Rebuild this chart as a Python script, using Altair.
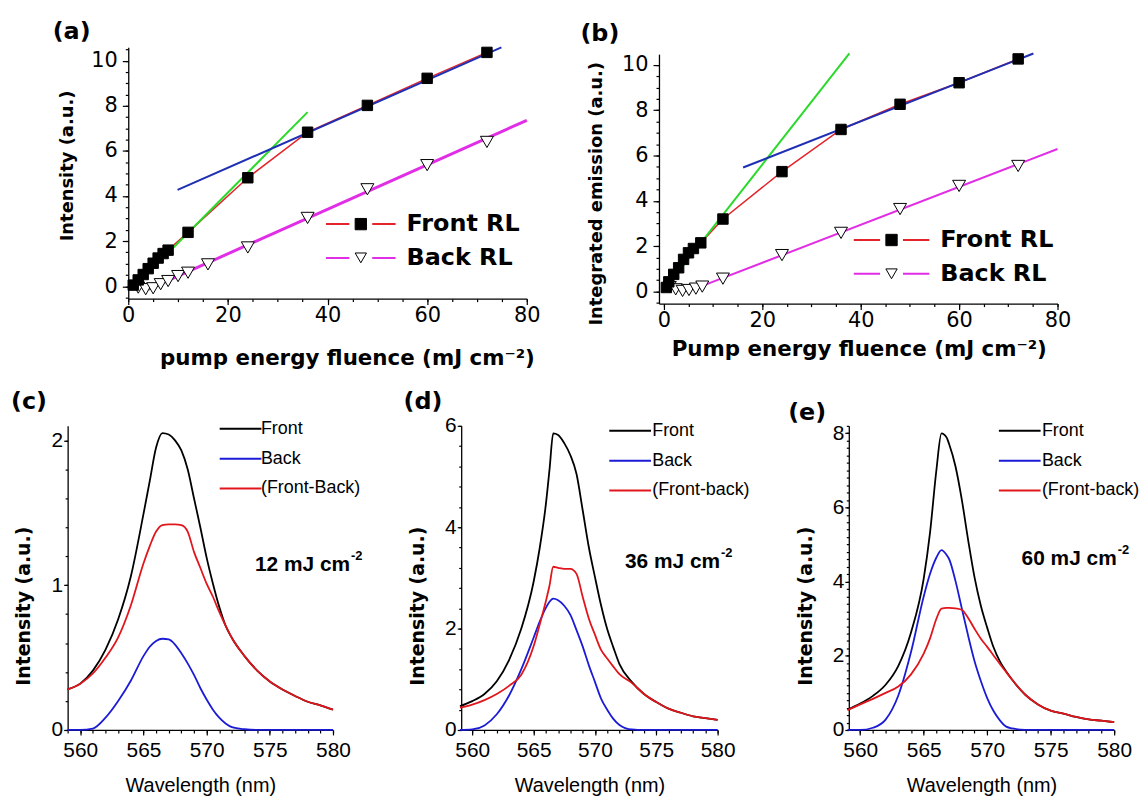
import altair as alt
import pandas as pd

# ---------------- Panel (a): intensity vs pump fluence ----------------
a_front_x = [1, 2, 3, 4, 5, 6, 7, 8, 12, 24, 36, 48, 60, 72]
a_front_y = [0.05, 0.28, 0.52, 0.78, 1.02, 1.25, 1.45, 1.6, 2.39, 4.81, 6.83, 8.02, 9.22, 10.37]
a_back_x = [2, 3.5, 5, 6.5, 8, 10, 12, 16, 24, 36, 48, 60, 72]
a_back_y = [-0.06, -0.13, -0.09, 0.09, 0.23, 0.45, 0.6, 0.97, 1.72, 3.03, 4.30, 5.37, 6.40]
a_fit_green_x = [2.4, 36.0]
a_fit_green_y = [0.23, 7.72]
a_fit_blue_x = [9.9, 74.9]
a_fit_blue_y = [4.27, 10.59]
a_fit_back_x = [4.1, 80.0]
a_fit_back_y = [-0.13, 7.36]

# ---------------- Panel (b): integrated emission vs pump fluence ----------------
b_front_x = [0.5, 1, 2, 3, 4, 5, 6, 7.5, 12, 24, 36, 48, 60, 72]
b_front_y = [0.18, 0.43, 0.76, 1.05, 1.42, 1.71, 1.9, 2.15, 3.2, 5.29, 7.15, 8.26, 9.21, 10.26]
b_back_x = [1.2, 2.4, 3.8, 5.1, 6.5, 7.8, 12, 24, 36, 48, 60, 72]
b_back_y = [0.2, 0.1, 0.03, 0.07, 0.13, 0.22, 0.57, 1.61, 2.59, 3.64, 4.66, 5.54]
b_fit_green_x = [0.9, 37.7]
b_fit_green_y = [0.32, 10.5]
b_fit_blue_x = [16.1, 75.1]
b_fit_blue_y = [5.47, 10.5]
b_fit_back_x = [7.8, 80.0]
b_fit_back_y = [0.25, 6.29]

# ---------------- Panel (c): spectra at 12 mJ cm-2 ----------------
wl_c = [559, 560, 561, 562, 563, 564, 565, 565.5, 566, 566.5, 567, 567.5, 568, 568.5,
        569, 569.5, 570, 570.5, 571, 571.5, 572, 573, 574, 575, 576, 577, 578, 579, 580]
c_front = [0.28, 0.32, 0.41, 0.555, 0.765, 1.06, 1.49, 1.72, 1.95, 2.05, 2.04, 2.0, 1.93, 1.80,
           1.60, 1.40, 1.19, 1.01, 0.85, 0.72, 0.635, 0.51, 0.41, 0.335, 0.28, 0.235, 0.195, 0.17, 0.14]
c_back = [0, 0, 0.01, 0.085, 0.20, 0.34, 0.51, 0.575, 0.615, 0.63, 0.625, 0.59, 0.53, 0.46,
          0.38, 0.29, 0.21, 0.14, 0.085, 0.045, 0.02, 0.005, 0, 0, 0, 0, 0, 0, 0]
c_diff = [0.28, 0.32, 0.39, 0.50, 0.64, 0.86, 1.15, 1.27, 1.37, 1.415, 1.42, 1.42, 1.415, 1.37,
          1.23, 1.12, 1.01, 0.92, 0.815, 0.72, 0.635, 0.51, 0.41, 0.335, 0.28, 0.235, 0.195, 0.17, 0.14]
c_names = ["Front", "Back", "(Front-Back)"]

# ---------------- Panel (d): spectra at 36 mJ cm-2 ----------------
wl_d = [559, 560, 561, 562, 563, 564, 565, 565.5, 566, 566.3, 566.6, 567, 567.5, 568, 568.5,
        569, 569.5, 570, 570.5, 571, 571.5, 572, 573, 574, 575, 576, 577, 578, 579, 580]
d_front = [0.47, 0.57, 0.71, 0.96, 1.38, 2.0, 2.92, 3.59, 4.45, 5.14, 5.85, 5.82, 5.66, 5.42, 5.05,
           4.34, 3.61, 3.02, 2.46, 1.99, 1.63, 1.30, 0.95, 0.71, 0.55, 0.42, 0.34, 0.27, 0.235, 0.20]
d_back = [0, 0.01, 0.09, 0.31, 0.68, 1.20, 1.82, 2.14, 2.41, 2.53, 2.59, 2.56, 2.45, 2.27, 1.97,
          1.65, 1.28, 0.95, 0.62, 0.40, 0.22, 0.10, 0.01, 0, 0, 0, 0, 0, 0, 0]
d_diff = [0.44, 0.50, 0.59, 0.71, 0.87, 1.09, 1.65, 2.08, 2.54, 2.85, 3.22, 3.20, 3.18, 3.18, 3.08,
          2.63, 2.20, 1.88, 1.58, 1.41, 1.25, 1.10, 0.93, 0.71, 0.55, 0.42, 0.34, 0.27, 0.235, 0.20]
d_names = ["Front", "Back", "(Front-back)"]

# ---------------- Panel (e): spectra at 60 mJ cm-2 ----------------
wl_e = [559, 560, 561, 562, 563, 564, 565, 565.5, 566, 566.4, 566.8, 567, 567.5, 568, 568.5,
        569, 569.5, 570, 570.5, 571, 571.5, 572, 573, 574, 575, 576, 577, 578, 579, 580]
e_front = [0.55, 0.71, 0.92, 1.22, 1.73, 2.63, 4.08, 5.33, 7.01, 8.0, 7.89, 7.71, 7.11, 6.21, 5.12,
           4.12, 3.35, 2.76, 2.23, 1.85, 1.58, 1.34, 0.95, 0.69, 0.52, 0.44, 0.35, 0.285, 0.25, 0.21]
e_back = [0, 0, 0.06, 0.28, 0.93, 2.10, 3.60, 4.21, 4.65, 4.85, 4.72, 4.61, 4.02, 3.28, 2.54,
          1.86, 1.32, 0.86, 0.51, 0.26, 0.09, 0.04, 0.005, 0, 0, 0, 0, 0, 0, 0]
e_diff = [0.535, 0.69, 0.84, 1.0, 1.17, 1.50, 2.06, 2.47, 3.0, 3.27, 3.29, 3.29, 3.28, 3.24, 3.02,
          2.73, 2.46, 2.24, 2.01, 1.78, 1.56, 1.34, 0.95, 0.69, 0.52, 0.44, 0.35, 0.285, 0.25, 0.21]
e_names = ["Front", "Back", "(Front-back)"]

SERIES = ["Front RL", "Back RL"]      # line legend entries
MARKERS = ["front", "back"]           # marker keys (their legend labels are hidden)

# ---------------- styles ----------------
RED = "#e3242b"
MAGENTA = "#e12ee6"
GREEN = "#2bd92b"
FITBLUE = "#1f2fb4"
SPEC_BLUE = "#1b1bd6"
SPEC_RED = "#e0161c"
WIDE = "DejaVu Sans"
NARROW = "Liberation Sans Narrow, Liberation Sans, Arial, sans-serif"


def ticks(start, stop, step):
    out, k = [], 0
    while start + k * step <= stop + 1e-9:
        out.append(round(start + k * step, 4))
        k += 1
    return out


def indep(ch):
    chans = dict(color="independent", shape="independent", fill="independent", stroke="independent")
    return ch.resolve_scale(**chans).resolve_legend(**chans)


def spacer(w, h):
    return alt.Chart(pd.DataFrame({"s": [0]})).mark_point(opacity=0).encode(
        x=alt.X("s:Q", axis=None), y=alt.Y("s:Q", axis=None)
    ).properties(width=w, height=h)


def top_panel(label, fx, fy, bx, by, green, blue, backfit, back_w, xdom, ydom, w, h,
              xtitle, xt_x, xt_y, ytitle, yt_x, yt_y, leg_x, leg_y, leg_off, leg_path,
              t_dx, t_dy):
    xs = alt.Scale(domain=xdom, nice=False, zero=False)
    ys = alt.Scale(domain=ydom, nice=False, zero=False)

    def X(axis=None):
        return alt.X("x:Q", scale=xs, axis=axis)

    def Y(axis=None):
        return alt.Y("y:Q", scale=ys, axis=axis)

    line_legend = alt.Legend(
        orient="none", legendX=leg_x, legendY=leg_y, title=None, padding=0,
        symbolType=leg_path, symbolSize=100, symbolStrokeWidth=2,
        labelFont=WIDE, labelFontWeight="bold", labelFontSize=24, labelColor="black",
        labelOffset=leg_off, rowPadding=10)
    mark_legend = alt.Legend(
        orient="none", legendX=leg_x, legendY=leg_y, title=None, padding=0,
        symbolSize=130, symbolStrokeColor="black", symbolStrokeWidth=1,
        labelFont=WIDE, labelFontWeight="bold", labelFontSize=24, labelOpacity=0,
        labelExpr="' '", labelOffset=leg_off, rowPadding=10)
    color = alt.Color("series:N", scale=alt.Scale(domain=SERIES, range=[RED, MAGENTA]),
                      legend=line_legend)
    shape = alt.Shape("marker:N", scale=alt.Scale(domain=MARKERS, range=["square", "triangle-down"]),
                      legend=mark_legend)
    fill = alt.Fill("marker:N", scale=alt.Scale(domain=MARKERS, range=["black", "white"]),
                    legend=mark_legend)
    stroke = alt.Stroke("marker:N", scale=alt.Scale(domain=MARKERS, range=["black", "black"]),
                        legend=mark_legend)

    front_line = pd.DataFrame({"x": fx, "y": fy, "series": [SERIES[0]] * len(fx)})
    back_line = pd.DataFrame({"x": backfit[0], "y": backfit[1], "series": [SERIES[1]] * 2})
    front_pts = pd.DataFrame({"x": fx, "y": fy, "marker": [MARKERS[0]] * len(fx)})
    back_pts = pd.DataFrame({"x": bx, "y": by, "marker": [MARKERS[1]] * len(bx)})

    minor = alt.Chart(front_pts).mark_point(opacity=0).encode(
        x=X(alt.Axis(values=ticks(0, 80, 5), orient="bottom", labels=False, domain=False,
                     tickSize=3, title=None, grid=False)),
        y=Y(alt.Axis(values=ticks(-0.5, 10.5, 0.5), orient="left", labels=False, domain=False,
                     tickSize=3, title=None, grid=False)),
    )
    l_back = alt.Chart(back_line).mark_line(strokeWidth=back_w).encode(x=X(), y=Y(), color=color)
    l_front = alt.Chart(front_line).mark_line(strokeWidth=1.5).encode(x=X(), y=Y(), color=color)
    l_green = alt.Chart(pd.DataFrame({"x": green[0], "y": green[1]})).mark_line(
        strokeWidth=2, color=GREEN).encode(x=X(), y=Y())
    l_blue = alt.Chart(pd.DataFrame({"x": blue[0], "y": blue[1]})).mark_line(
        strokeWidth=2, color=FITBLUE).encode(x=X(), y=Y())
    p_back = alt.Chart(back_pts).mark_point(size=170, strokeWidth=1, opacity=1).encode(
        x=X(), y=Y(), shape=shape, fill=fill, stroke=stroke)
    p_front = alt.Chart(front_pts).mark_point(size=110, strokeWidth=1, opacity=1).encode(
        x=X(alt.Axis(values=[0, 20, 40, 60, 80], orient="bottom", tickSize=6, labelPadding=0,
                     labelFont=WIDE, labelFontSize=21, labelFlush=False, labelOverlap=False,
                     grid=False, title=xtitle, titleFont=WIDE, titleFontSize=21.5,
                     titleFontWeight="bold", titleX=xt_x, titleY=xt_y,
                     titleBaseline="alphabetic", titleAlign="center")),
        y=Y(alt.Axis(values=[0, 2, 4, 6, 8, 10], orient="left", tickSize=6, labelPadding=5,
                     labelFont=WIDE, labelFontSize=21, labelFlush=False, labelOverlap=False,
                     grid=False, title=ytitle, titleFont=WIDE, titleFontSize=18,
                     titleFontWeight="bold", titleX=yt_x, titleY=yt_y, titleAngle=270,
                     titleBaseline="middle", titleAlign="center")),
        shape=shape, fill=fill, stroke=stroke,
    )
    return alt.layer(minor, l_back, l_front, l_green, l_blue, p_back, p_front).resolve_axis(
        x="independent", y="independent"
    ).properties(
        width=w, height=h,
        title=alt.Title(label, anchor="start", frame="group", font=WIDE, fontSize=24,
                        fontWeight="bold", color="black", offset=0, baseline="alphabetic",
                        dx=t_dx, dy=t_dy),
    )


def spec_panel(label, wl, front, back, diff, names, xdom, ydom, w, h, ymajor, ystep,
               ann_text, ann_x, ann_y, leg_x, leg_y, leg_off, t_dx, t_dy):
    xs = alt.Scale(domain=xdom, nice=False, zero=False)
    ys = alt.Scale(domain=ydom, nice=False, zero=False)
    n = len(wl)
    df = pd.DataFrame({"wl": wl * 3, "I": front + back + diff,
                       "curve": [names[0]] * n + [names[1]] * n + [names[2]] * n})
    leg = alt.Legend(orient="none", legendX=leg_x, legendY=leg_y, title=None, padding=0,
                     symbolType="M-4.2,0H4.2", symbolSize=100, symbolStrokeWidth=2,
                     labelFont=NARROW, labelFontSize=18, labelColor="black",
                     labelOffset=leg_off, rowPadding=12)
    color = alt.Color("curve:N", scale=alt.Scale(domain=names, range=["black", SPEC_BLUE, SPEC_RED]),
                      legend=leg)

    def X(axis=None):
        return alt.X("wl:Q", scale=xs, axis=axis)

    def Y(axis=None):
        return alt.Y("I:Q", scale=ys, axis=axis)

    major_x = alt.Axis(values=[560, 565, 570, 575, 580], orient="bottom", tickSize=5, labelPadding=5,
                       labelFont=NARROW, labelFontSize=21, labelFlush=False, labelOverlap=False,
                       grid=False, title="Wavelength (nm)", titleFont=NARROW, titleFontSize=20,
                       titleFontWeight="normal", titleY=62, titleBaseline="alphabetic")
    major_y = alt.Axis(values=ymajor, format=".0f", orient="left", tickSize=4, labelPadding=1,
                       labelFont=NARROW, labelFontSize=21, labelFlush=False, labelOverlap=False,
                       grid=False, title="Intensity (a.u.)", titleFont=WIDE, titleFontSize=19,
                       titleFontWeight="bold", titleX=-44, titleY=181, titleAngle=270,
                       titleBaseline="middle", titleAlign="center")
    minor = alt.Chart(df).mark_point(opacity=0).encode(
        x=X(alt.Axis(values=ticks(559, 580, 1), orient="bottom", labels=False, domain=False,
                     tickSize=3, title=None, grid=False)),
        y=Y(alt.Axis(values=ticks(0, ydom[1], ystep), orient="left", labels=False, domain=False,
                     tickSize=2.5, title=None, grid=False)),
    )
    layers = [minor]
    for i, name in enumerate(names):
        layers.append(
            alt.Chart(df).transform_filter(alt.datum.curve == name).mark_line(
                strokeWidth=1.8, interpolate="monotone").encode(
                x=X(major_x if i == 0 else None), y=Y(major_y if i == 0 else None), color=color))
    ann = pd.DataFrame({"wl": [ann_x], "I": [ann_y]})
    layers.append(alt.Chart(ann).mark_text(
        text=ann_text, align="right", baseline="alphabetic", font=NARROW, fontSize=21,
        fontWeight="bold", color="black").encode(x=X(), y=Y()))
    layers.append(alt.Chart(ann).mark_text(
        text="-2", align="left", baseline="alphabetic", dx=1, dy=-11, font=NARROW, fontSize=13,
        fontWeight="bold", color="black").encode(x=X(), y=Y()))
    return alt.layer(*layers).resolve_axis(x="independent", y="independent").properties(
        width=w, height=h,
        title=alt.Title(label, anchor="start", frame="group", font=WIDE, fontSize=24,
                        fontWeight="bold", color="black", offset=0, baseline="alphabetic",
                        dx=t_dx, dy=t_dy),
    )


panel_a = top_panel("(a)", a_front_x, a_front_y, a_back_x, a_back_y,
                    (a_fit_green_x, a_fit_green_y), (a_fit_blue_x, a_fit_blue_y),
                    (a_fit_back_x, a_fit_back_y), 3,
                    [0, 80], [-0.55, 10.6], 401, 253,
                    "pump energy fluence (mJ cm\u207b\u00b2)", 220, 66,
                    "Intensity (a.u.)", -61, 119,
                    222, 166, 34, "M-7,0H-2.3M2.3,0H7", -76, 20)
panel_b = top_panel("(b)", b_front_x, b_front_y, b_back_x, b_back_y,
                    (b_fit_green_x, b_fit_green_y), (b_fit_blue_x, b_fit_blue_y),
                    (b_fit_back_x, b_fit_back_y), 2,
                    [-1, 80], [-0.53, 10.47], 401, 251,
                    "Pump energy fluence (mJ cm\u207b\u00b2)", 201, 52,
                    "Integrated emission (a.u.)", -63, 140,
                    222, 175, 37, "M-7.6,0H-2.3M2.3,0H7.6", -79, 15)
panel_c = spec_panel("(c)", wl_c, c_front, c_back, c_diff, c_names, [559, 580], [0, 2.1], 267, 306,
                     [0, 1, 2], 0.2, "12 mJ cm", 581.35, 1.10, 165, -6, 11.5, -57, 13)
panel_d = spec_panel("(d)", wl_d, d_front, d_back, d_diff, d_names, [559.1, 580], [0, 6], 258, 306,
                     [0, 2, 4, 6], 0.4, "36 mJ cm", 580.2, 3.2, 161, -4, 13.2, -58, 18)
panel_e = spec_panel("(e)", wl_e, e_front, e_back, e_diff, e_names, [559.1, 580], [0, 8.2], 267, 306,
                     [0, 2, 4, 6, 8], 0.2, "60 mJ cm", 580.2, 4.45, 163, -4, 13.3, -61, 22)

col_a = indep(alt.vconcat(spacer(1, 34), panel_a, spacing=0, bounds="flush"))
col_b = indep(alt.vconcat(spacer(1, 41), panel_b, spacing=0, bounds="flush"))
row1 = indep(alt.hconcat(spacer(121, 1), col_a, spacer(534, 1), col_b, spacing=0, bounds="flush"))
row2 = indep(alt.hconcat(spacer(60, 1), panel_c, spacer(129, 1), panel_d, spacer(132, 1), panel_e,
                         spacing=0, bounds="flush"))
chart = indep(alt.vconcat(row1, row2, spacing=415, bounds="flush")).properties(
    padding=0, background="white"
).configure_view(stroke=None).configure_axis(
    grid=False, domainColor="black", domainWidth=1.3, tickColor="black", tickWidth=1.2,
    labelColor="black", titleColor="black"
)

chart.save("out.html", embed_options={"renderer": "svg", "actions": False})
